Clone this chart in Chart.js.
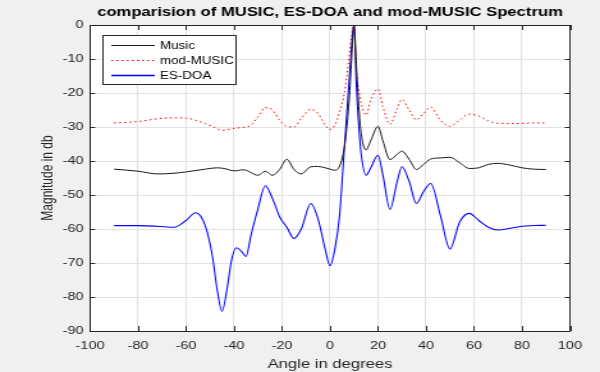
<!DOCTYPE html>
<html>
<head>
<meta charset="utf-8">
<script src="https://cdn.jsdelivr.net/npm/chart.js@4/dist/chart.umd.min.js"></script>
<style>
html,body{margin:0;padding:0;background:#f0f0f0;overflow:hidden;}
#wrap{width:469px;height:372px;position:relative;transform:scaleX(1.2793);transform-origin:0 0;}
canvas{display:block;}
</style>
</head>
<body>
<div id="wrap"><canvas id="c" width="469" height="372" style="width:469px;height:372px"></canvas></div>
<script>
const angles = [-90,-80,-72,-65,-60,-56,-52,-49,-47,-45,-43,-41,-39,-37,-35,-33,-30,-27,-24,-21,-18,-15,-12,-8,-5,-2,0,2,4,6,7,8,9,9.5,10,11,12,13,15,17,20,22,25,28,30,33,36,39,42,46,50,54,58,62,66,70,75,80,85,90];

const music = [-42.4,-43.0,-43.8,-43.6,-43.2,-42.8,-42.4,-42.1,-42.0,-42.1,-42.4,-42.8,-42.9,-42.6,-42.7,-43.4,-44.2,-43.0,-44.2,-42.5,-39.5,-42.5,-43.8,-41.7,-41.6,-42.0,-42.4,-42.7,-41.5,-36,-30,-22,-10,-4,0,-12,-24,-32,-36.7,-34,-29.8,-34,-39.6,-38,-37.1,-39.5,-42.5,-41,-39.4,-39.1,-38.9,-40.5,-42.2,-42.0,-41.0,-40.7,-41.2,-42.0,-42.4,-42.5];

const modMusic = [-28.8,-28.4,-27.6,-27.3,-27.4,-28.0,-29.0,-29.8,-30.5,-31.0,-30.8,-30.5,-30.3,-30.2,-30.0,-29.5,-27.0,-24.3,-25.0,-28.0,-29.8,-30.0,-27.5,-24.8,-26,-29.5,-30.7,-29.5,-25.5,-20,-15,-9,-3,-1,0,-14,-19,-23,-26.5,-22,-18.8,-24,-29.2,-24.5,-21.9,-25,-27.9,-26,-24.2,-28,-29.8,-28.0,-26.2,-26.8,-28.2,-28.9,-29.0,-28.9,-28.8,-28.8];

const esDoa = [-59.0,-59.0,-59.2,-59.5,-57.5,-55.2,-59,-68,-78,-84.2,-78,-69,-65.5,-66.5,-68.1,-62,-54,-47.3,-51,-56.4,-59.5,-62.8,-60,-52.5,-57,-66,-70.8,-66,-56,-36,-26,-16,-6,-2,0,-18,-30,-38,-44.2,-42,-38.3,-44,-54.2,-46,-41.7,-46,-52.5,-49,-46.6,-56,-65.9,-58,-55.4,-57.5,-59.5,-60.3,-59.8,-59.2,-59.0,-58.9];

const seriesNames = ['Music','mod-MUSIC','ES-DOA'];
const xTicks = [-100,-80,-60,-40,-20,0,20,40,60,80,100];
const yTicks = [-90,-80,-70,-60,-50,-40,-30,-20,-10,0];
const chartTitle = 'comparision of MUSIC, ES-DOA and mod-MUSIC Spectrum';

const FONT = "'Liberation Sans', Arial, Helvetica, sans-serif";
const AX = '#262626';
const COLORS = ['#1a1a1a','#ff0000','#0000ff'];
const WIDTHS = [1, 1, 1.05];
const LEGEND_WIDTHS = [1, 1, 1.6];

function pts(arr){ return angles.map((a,i)=>({x:a,y:arr[i]})); }

const boxPlugin = {
  id:'boxPlugin',
  beforeDraw(chart){
    const {ctx, chartArea:ca} = chart;
    ctx.save();
    ctx.fillStyle = '#f0f0f0';
    ctx.fillRect(0,0,chart.width,chart.height);
    ctx.fillStyle = '#ffffff';
    ctx.fillRect(ca.left,ca.top,ca.right-ca.left,ca.bottom-ca.top);
    ctx.restore();
  },
  afterDraw(chart){
    const {ctx, chartArea:ca, scales} = chart;
    ctx.save();
    // title
    ctx.fillStyle = '#000';
    ctx.font = 'bold 13px ' + FONT;
    ctx.textAlign = 'center';
    ctx.textBaseline = 'middle';
    ctx.fillText(chartTitle,(ca.left+ca.right)/2,12);
    // inner ticks
    ctx.strokeStyle = AX; ctx.lineWidth = 1;
    ctx.beginPath();
    xTicks.forEach(v=>{
      const px = Math.round(scales.x.getPixelForValue(v))+0.5;
      ctx.moveTo(px,ca.bottom); ctx.lineTo(px,ca.bottom-5);
      ctx.moveTo(px,ca.top); ctx.lineTo(px,ca.top+5);
    });
    yTicks.forEach(v=>{
      const py = Math.round(scales.y.getPixelForValue(v))+0.5;
      ctx.moveTo(ca.left,py); ctx.lineTo(ca.left+4,py);
      ctx.moveTo(ca.right,py); ctx.lineTo(ca.right-4,py);
    });
    ctx.stroke();
    // box
    ctx.strokeRect(Math.round(ca.left)+0.5,Math.round(ca.top)+0.5,Math.round(ca.right-ca.left),Math.round(ca.bottom-ca.top));
    // legend
    const lx = 80.5, ly = 35.5, lw = 104, lh = 49;
    ctx.fillStyle = '#ffffff';
    ctx.fillRect(lx,ly,lw,lh);
    ctx.strokeStyle = AX;
    ctx.lineWidth = 1;
    ctx.strokeRect(lx,ly,lw,lh);
    ctx.font = '10.5px ' + FONT;
    ctx.textAlign = 'left';
    ctx.textBaseline = 'middle';
    const rows = [45.5, 60.5, 75.5];
    chart.data.datasets.forEach((ds,i)=>{
      ctx.beginPath();
      ctx.strokeStyle = COLORS[i];
      ctx.lineWidth = LEGEND_WIDTHS[i];
      ctx.setLineDash(i===1 ? [1.5,2.5] : []);
      ctx.moveTo(87,rows[i]); ctx.lineTo(121,rows[i]);
      ctx.stroke();
      ctx.setLineDash([]);
      ctx.fillStyle = '#000';
      ctx.fillText(ds.label,125,rows[i]+0.5);
    });
    ctx.restore();
  }
};

new Chart(document.getElementById('c'),{
  type:'line',
  data:{
    datasets:[
      {label:seriesNames[0], data:pts(music), borderColor:COLORS[0], borderWidth:WIDTHS[0], pointRadius:0, cubicInterpolationMode:'monotone', fill:false},
      {label:seriesNames[1], data:pts(modMusic), borderColor:COLORS[1], borderWidth:WIDTHS[1], borderDash:[1.5,2.5], pointRadius:0, cubicInterpolationMode:'monotone', fill:false},
      {label:seriesNames[2], data:pts(esDoa), borderColor:COLORS[2], borderWidth:WIDTHS[2], pointRadius:0, cubicInterpolationMode:'monotone', fill:false}
    ]
  },
  options:{
    responsive:false,
    animation:false,
    devicePixelRatio:1,
    layout:{padding:{left:0,right:23.5,top:25,bottom:0}},
    plugins:{
      legend:{display:false},
      tooltip:{enabled:false},
      title:{display:false}
    },
    scales:{
      x:{
        type:'linear', min:-100, max:100,
        afterBuildTicks(s){ s.ticks = xTicks.map(v=>({value:v})); },
        afterFit(s){ s.height = 41; },
        grid:{color:'#e2e2e2', drawTicks:false},
        border:{display:false},
        ticks:{color:AX, font:{family:FONT,size:11.3}, padding:8, maxRotation:0},
        title:{display:true, text:'Angle in degrees', color:AX, font:{family:FONT,size:13}, padding:{top:0,bottom:0}}
      },
      y:{
        type:'linear', min:-90, max:0,
        afterBuildTicks(s){ s.ticks = yTicks.map(v=>({value:v})); },
        afterFit(s){ s.width = 70.4; },
        grid:{color:'#e2e2e2', drawTicks:false},
        border:{display:false},
        ticks:{color:AX, font:{family:FONT,size:11.3}, padding:5},
        title:{display:true, text:'Magnitude in db', color:AX, font:{family:FONT,size:12}, padding:{top:30,bottom:0}}
      }
    }
  },
  plugins:[boxPlugin]
});
</script>
</body>
</html>
